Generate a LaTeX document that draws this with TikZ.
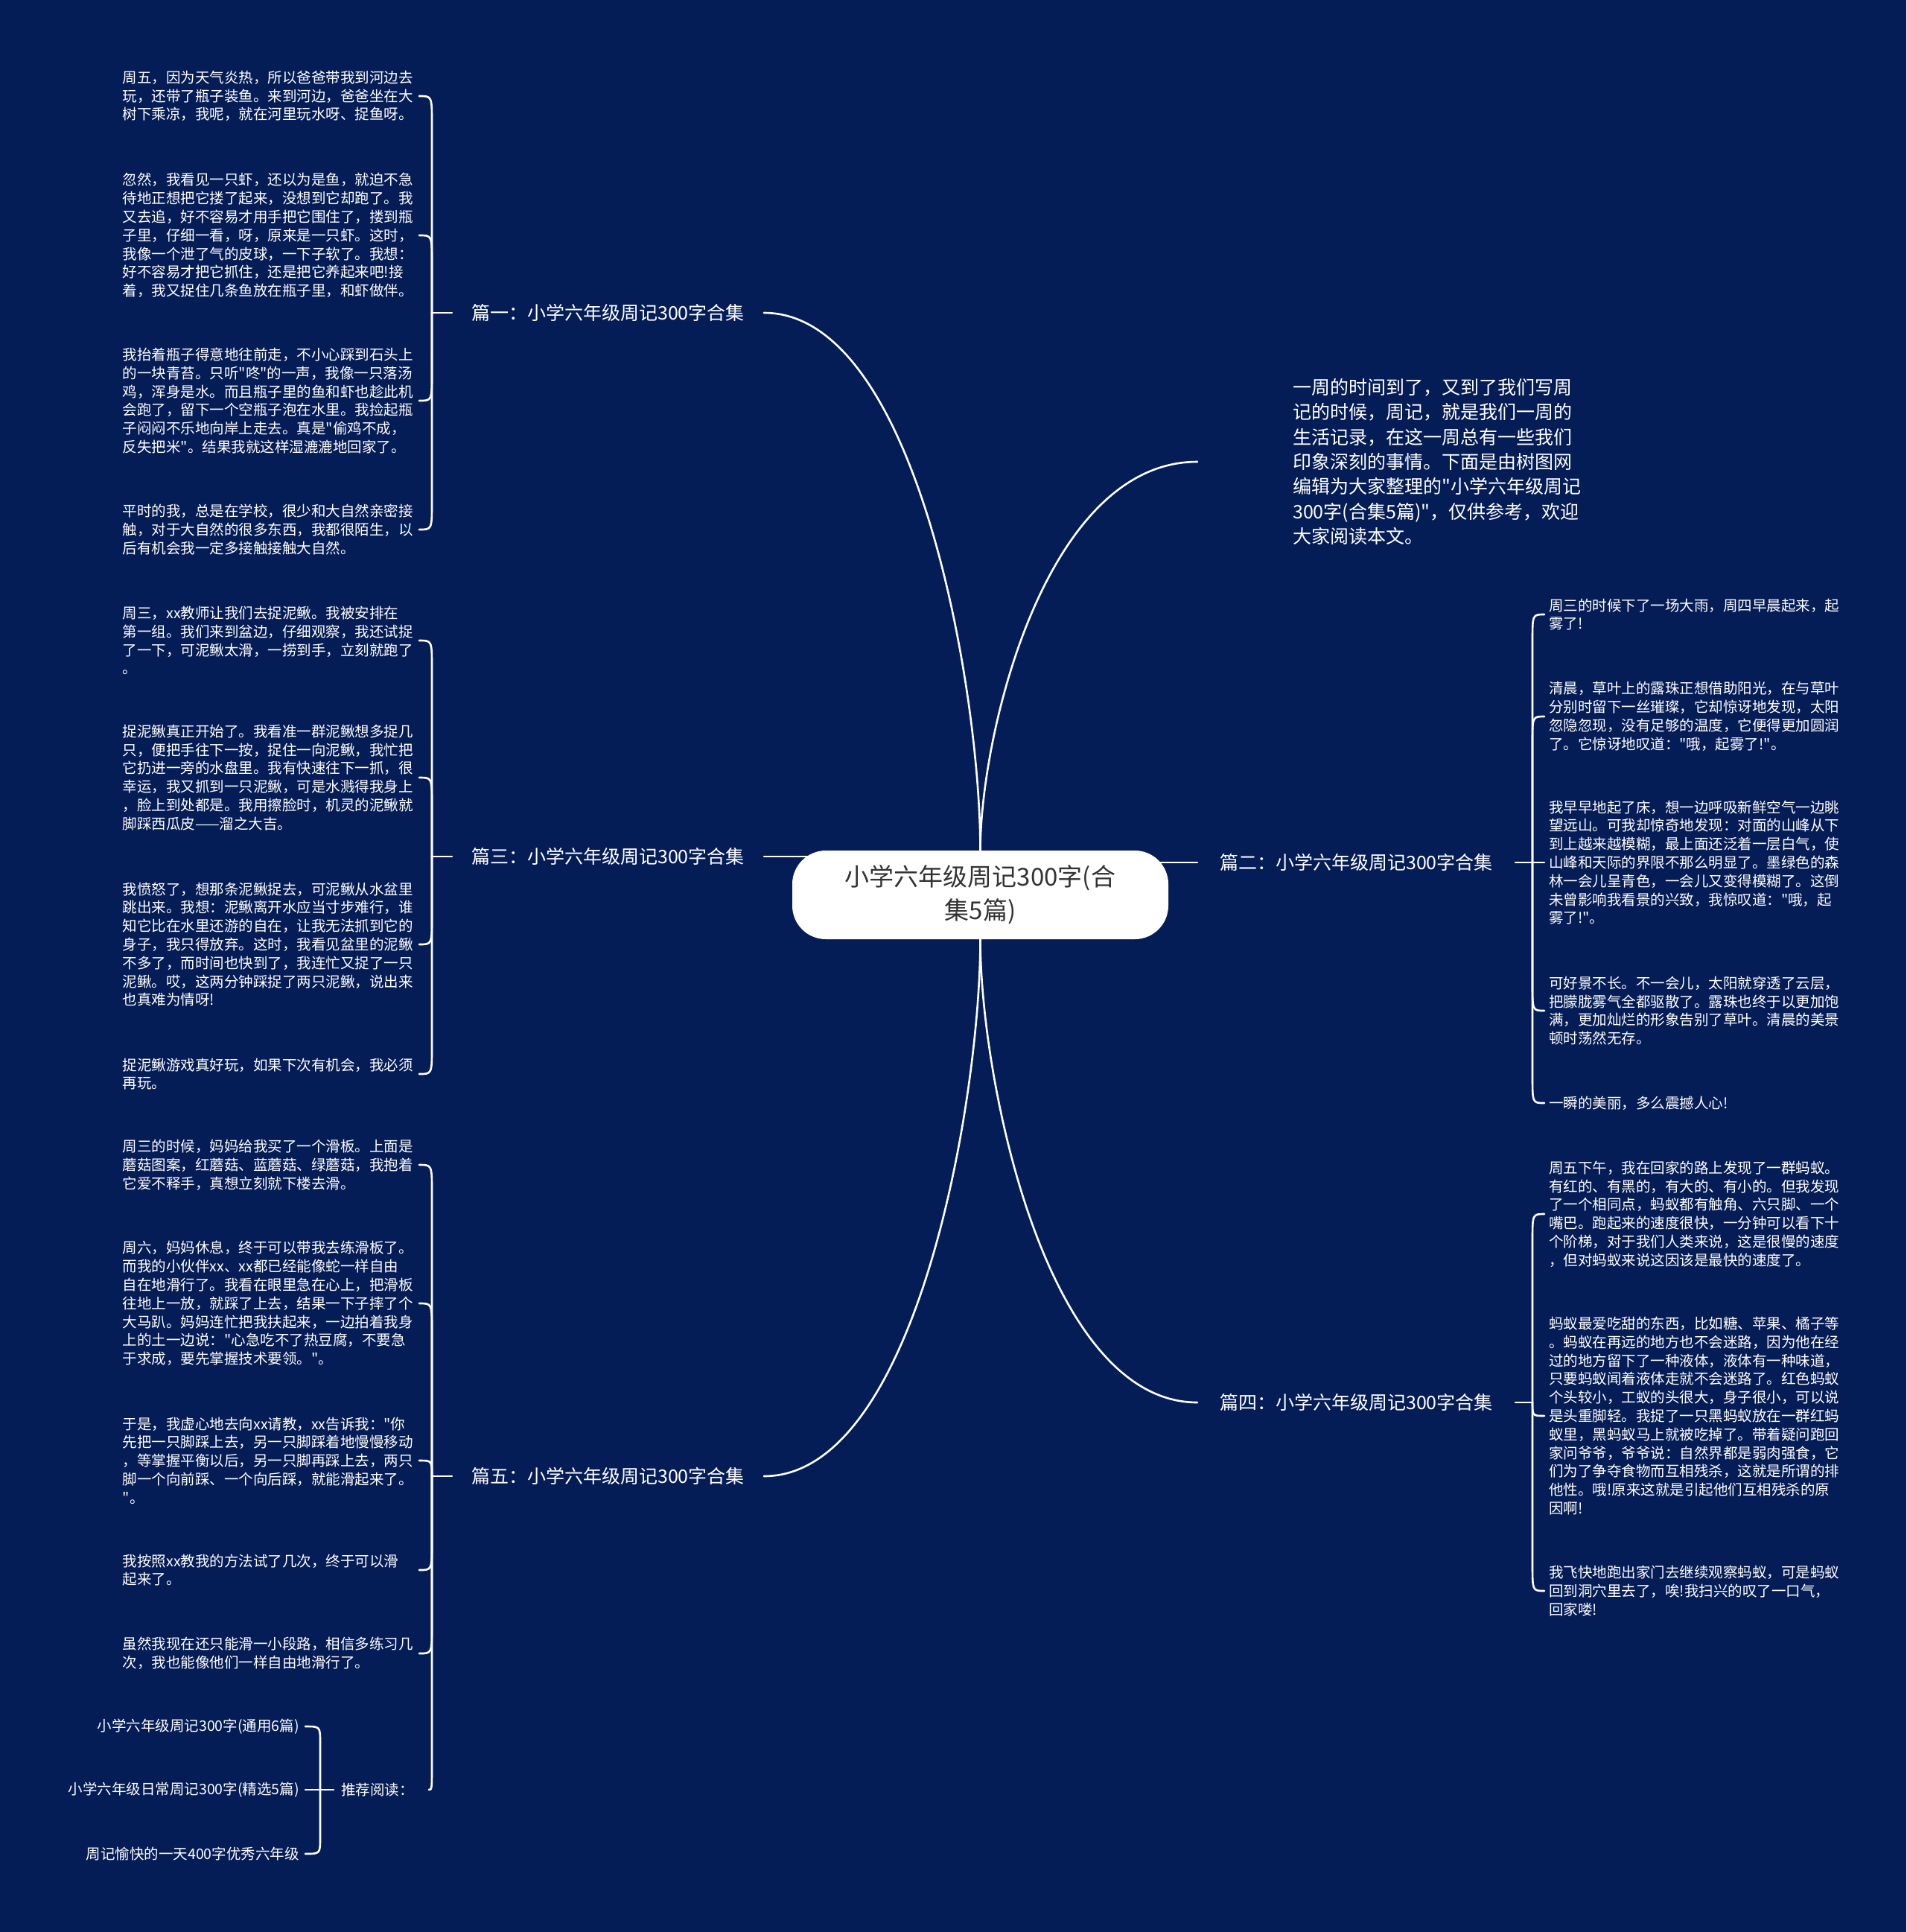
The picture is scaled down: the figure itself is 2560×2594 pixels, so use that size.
\documentclass[tikz,border=0pt]{standalone}
\usepackage{fontspec}
\setmainfont{Noto Sans CJK SC}[Ligatures=TeXOff]
\usetikzlibrary{calc}
\definecolor{bgc}{HTML}{051D57}
\definecolor{ctext}{HTML}{333333}
\pgfdeclarelayer{bglayer}
\pgfdeclarelayer{edgelayer}
\pgfsetlayers{bglayer,edgelayer,main}
\newcommand\myhook[3]{\draw[conn] (#1) -- ($(#1 |- #2)+(0,#3)$) .. controls (#1 |- #2) .. (#2);}
\begin{document}
\begin{tikzpicture}[x=1pt,y=-1pt,
 conn/.style={draw=white,line width=2.6pt,line cap=round},
 leaf/.style={text=white,font=\fontsize{19.5}{24.8}\selectfont,align=left,text width=392pt,inner xsep=6pt,inner ysep=0pt},
 rec/.style={text=white,font=\fontsize{19.5}{24.8}\selectfont,inner xsep=8pt,inner ysep=2pt},
 branch/.style={text=white,font=\fontsize{25}{30}\selectfont,inner ysep=4pt},
 intro/.style={text=white,font=\fontsize{25}{33.4}\selectfont,align=left,text width=400pt,inner xsep=128pt},
 root/.style={fill=white,text=ctext,rounded corners=45pt,minimum width=505pt,minimum height=119pt,font=\fontsize{33}{45}\selectfont,align=center,text width=420pt}
]
\begin{pgfonlayer}{bglayer}
\fill[bgc] (0,0) rectangle (2560,2594);
\end{pgfonlayer}
\useasboundingbox (0,0) rectangle (2560,2594);

% root
\node[root] (c) at (1316.5,1201.5) {小学六年级周记300字(合\\集5篇)};

% branches
\node[branch,anchor=east,inner xsep=26pt] (p1) at (1026,420) {篇一：小学六年级周记300字合集};
\node[branch,anchor=east,inner xsep=26pt] (p3) at (1026,1150) {篇三：小学六年级周记300字合集};
\node[branch,anchor=east,inner xsep=26pt] (p5) at (1026,1982) {篇五：小学六年级周记300字合集};
\node[branch,anchor=west,inner xsep=30pt] (p2) at (1608,1158) {篇二：小学六年级周记300字合集};
\node[branch,anchor=west,inner xsep=30pt] (p4) at (1608,1883) {篇四：小学六年级周记300字合集};
\node[intro,anchor=west] (in) at (1608,620) {一周的时间到了，又到了我们写周\\
记的时候，周记，就是我们一周的\\
生活记录，在这一周总有一些我们\\
印象深刻的事情。下面是由树图网\\
编辑为大家整理的"小学六年级周记\\
300字(合集5篇)"，仅供参考，欢迎\\
大家阅读本文。};

% 篇一 leaves
\node[leaf,anchor=east] (a1) at (563,129) {周五，因为天气炎热，所以爸爸带我到河边去\\
玩，还带了瓶子装鱼。来到河边，爸爸坐在大\\
树下乘凉，我呢，就在河里玩水呀、捉鱼呀。};
\node[leaf,anchor=east] (a2) at (563,316) {忽然，我看见一只虾，还以为是鱼，就迫不急\\
待地正想把它搂了起来，没想到它却跑了。我\\
又去追，好不容易才用手把它围住了，搂到瓶\\
子里，仔细一看，呀，原来是一只虾。这时，\\
我像一个泄了气的皮球，一下子软了。我想：\\
好不容易才把它抓住，还是把它养起来吧!接\\
着，我又捉住几条鱼放在瓶子里，和虾做伴。};
\node[leaf,anchor=east] (a3) at (563,538) {我抬着瓶子得意地往前走，不小心踩到石头上\\
的一块青苔。只听"咚"的一声，我像一只落汤\\
鸡，浑身是水。而且瓶子里的鱼和虾也趁此机\\
会跑了，留下一个空瓶子泡在水里。我捡起瓶\\
子闷闷不乐地向岸上走去。真是"偷鸡不成，\\
反失把米"。结果我就这样湿漉漉地回家了。};
\node[leaf,anchor=east] (a4) at (563,711) {平时的我，总是在学校，很少和大自然亲密接\\
触，对于大自然的很多东西，我都很陌生，以\\
后有机会我一定多接触接触大自然。};

% 篇三 leaves
\node[leaf,anchor=east] (b1) at (563,860) {周三，xx教师让我们去捉泥鳅。我被安排在\\
第一组。我们来到盆边，仔细观察，我还试捉\\
了一下，可泥鳅太滑，一捞到手，立刻就跑了\\
。};
\node[leaf,anchor=east] (b2) at (563,1044) {捉泥鳅真正开始了。我看准一群泥鳅想多捉几\\
只，便把手往下一按，捉住一向泥鳅，我忙把\\
它扔进一旁的水盘里。我有快速往下一抓，很\\
幸运，我又抓到一只泥鳅，可是水溅得我身上\\
，脸上到处都是。我用擦脸时，机灵的泥鳅就\\
脚踩西瓜皮——溜之大吉。};
\node[leaf,anchor=east] (b3) at (563,1268) {我愤怒了，想那条泥鳅捉去，可泥鳅从水盆里\\
跳出来。我想：泥鳅离开水应当寸步难行，谁\\
知它比在水里还游的自在，让我无法抓到它的\\
身子，我只得放弃。这时，我看见盆里的泥鳅\\
不多了，而时间也快到了，我连忙又捉了一只\\
泥鳅。哎，这两分钟踩捉了两只泥鳅，说出来\\
也真难为情呀!};
\node[leaf,anchor=east] (b4) at (563,1442) {捉泥鳅游戏真好玩，如果下次有机会，我必须\\
再玩。};

% 篇五 leaves
\node[leaf,anchor=east] (e1) at (563,1564) {周三的时候，妈妈给我买了一个滑板。上面是\\
蘑菇图案，红蘑菇、蓝蘑菇、绿蘑菇，我抱着\\
它爱不释手，真想立刻就下楼去滑。};
\node[leaf,anchor=east] (e2) at (563,1750) {周六，妈妈休息，终于可以带我去练滑板了。\\
而我的小伙伴xx、xx都已经能像蛇一样自由\\
自在地滑行了。我看在眼里急在心上，把滑板\\
往地上一放，就踩了上去，结果一下子摔了个\\
大马趴。妈妈连忙把我扶起来，一边拍着我身\\
上的土一边说："心急吃不了热豆腐，不要急\\
于求成，要先掌握技术要领。"。};
\node[leaf,anchor=east] (e3) at (563,1961) {于是，我虚心地去向xx请教，xx告诉我："你\\
先把一只脚踩上去，另一只脚踩着地慢慢移动\\
，等掌握平衡以后，另一只脚再踩上去，两只\\
脚一个向前踩、一个向后踩，就能滑起来了。\\
"。};
\node[leaf,anchor=east] (e4) at (563,2108) {我按照xx教我的方法试了几次，终于可以滑\\
起来了。};
\node[leaf,anchor=east] (e5) at (563,2220) {虽然我现在还只能滑一小段路，相信多练习几\\
次，我也能像他们一样自由地滑行了。};
\node[rec,anchor=west,inner xsep=10pt] (tj) at (448,2403) {推荐阅读：};
\node[rec,anchor=east] (r1) at (410,2318) {小学六年级周记300字(通用6篇)};
\node[rec,anchor=east] (r2) at (410,2403) {小学六年级日常周记300字(精选5篇)};
\node[rec,anchor=east] (r3) at (410,2489) {周记愉快的一天400字优秀六年级};

% 篇二 leaves
\node[leaf,anchor=west] (f1) at (2074,825) {周三的时候下了一场大雨，周四早晨起来，起\\
雾了!};
\node[leaf,anchor=west] (f2) at (2074,962) {清晨，草叶上的露珠正想借助阳光，在与草叶\\
分别时留下一丝璀璨，它却惊讶地发现，太阳\\
忽隐忽现，没有足够的温度，它便得更加圆润\\
了。它惊讶地叹道："哦，起雾了!"。};
\node[leaf,anchor=west] (f3) at (2074,1158) {我早早地起了床，想一边呼吸新鲜空气一边眺\\
望远山。可我却惊奇地发现：对面的山峰从下\\
到上越来越模糊，最上面还泛着一层白气，使\\
山峰和天际的界限不那么明显了。墨绿色的森\\
林一会儿呈青色，一会儿又变得模糊了。这倒\\
未曾影响我看景的兴致，我惊叹道："哦，起\\
雾了!"。};
\node[leaf,anchor=west] (f4) at (2074,1357) {可好景不长。不一会儿，太阳就穿透了云层，\\
把朦胧雾气全都驱散了。露珠也终于以更加饱\\
满，更加灿烂的形象告别了草叶。清晨的美景\\
顿时荡然无存。};
\node[leaf,anchor=west] (f5) at (2074,1481) {一瞬的美丽，多么震撼人心!};

% 篇四 leaves
\node[leaf,anchor=west] (g1) at (2074,1630) {周五下午，我在回家的路上发现了一群蚂蚁。\\
有红的、有黑的，有大的、有小的。但我发现\\
了一个相同点，蚂蚁都有触角、六只脚、一个\\
嘴巴。跑起来的速度很快，一分钟可以看下十\\
个阶梯，对于我们人类来说，这是很慢的速度\\
，但对蚂蚁来说这因该是最快的速度了。};
\node[leaf,anchor=west] (g2) at (2074,1901) {蚂蚁最爱吃甜的东西，比如糖、苹果、橘子等\\
。蚂蚁在再远的地方也不会迷路，因为他在经\\
过的地方留下了一种液体，液体有一种味道，\\
只要蚂蚁闻着液体走就不会迷路了。红色蚂蚁\\
个头较小，工蚁的头很大，身子很小，可以说\\
是头重脚轻。我捉了一只黑蚂蚁放在一群红蚂\\
蚁里，黑蚂蚁马上就被吃掉了。带着疑问跑回\\
家问爷爷，爷爷说：自然界都是弱肉强食，它\\
们为了争夺食物而互相残杀，这就是所谓的排\\
他性。哦!原来这就是引起他们互相残杀的原\\
因啊!};
\node[leaf,anchor=west] (g3) at (2074,2136) {我飞快地跑出家门去继续观察蚂蚁，可是蚂蚁\\
回到洞穴里去了，唉!我扫兴的叹了一口气，\\
回家喽!};

% brace junctions
\coordinate (j1) at (580,420);
\coordinate (j3) at (580,1150);
\coordinate (j5) at (580,1982);
\coordinate (j2) at (2058,1158);
\coordinate (j4) at (2058,1883);
\coordinate (jt) at (430,2403);
\coordinate (tje) at ([xshift=10pt]tj.east);

\begin{pgfonlayer}{edgelayer}
% main curves
\draw[conn] (c.north) .. controls +(0,-217) and +(204,0) .. (p1.east);
\draw[conn] (c.north) .. controls +(0,-156) and +(-204,0) .. (in.west);
\draw[conn] (c.south) .. controls +(0,216) and +(204,0) .. (p5.east);
\draw[conn] (c.south) .. controls +(0,187) and +(-204,0) .. (p4.west);
\draw[conn] (p3.east) -- (p3.east -| c.center);
\draw[conn] (p2.west) -- (p2.west -| c.center);
% ticks
\draw[conn] (p1.west) -- (j1);
\draw[conn] (p3.west) -- (j3);
\draw[conn] (p5.west) -- (j5);
\draw[conn] (p2.east) -- (j2);
\draw[conn] (p4.east) -- (j4);
\draw[conn] (tj.west) -- (jt);
% 篇一
\myhook{j1}{a1.east}{36}
\myhook{j1}{a2.east}{36}
\myhook{j1}{a3.east}{-36}
\myhook{j1}{a4.east}{-36}
% 篇三
\myhook{j3}{b1.east}{36}
\myhook{j3}{b2.east}{36}
\myhook{j3}{b3.east}{-36}
\myhook{j3}{b4.east}{-36}
% 篇五
\myhook{j5}{e1.east}{36}
\myhook{j5}{e2.east}{36}
\myhook{j5}{e3.east}{21}
\myhook{j5}{e4.east}{-36}
\myhook{j5}{e5.east}{-36}
\myhook{j5}{tje}{-36}
% 推荐阅读
\myhook{jt}{r1.east}{22}
\draw[conn] (jt) -- (r2.east);
\myhook{jt}{r3.east}{-22}
% 篇二
\myhook{j2}{f1.west}{36}
\myhook{j2}{f2.west}{36}
\draw[conn] (j2) -- (f3.west);
\myhook{j2}{f4.west}{-36}
\myhook{j2}{f5.west}{-36}
% 篇四
\myhook{j4}{g1.west}{36}
\myhook{j4}{g2.west}{-18}
\myhook{j4}{g3.west}{-36}
\end{pgfonlayer}
\end{tikzpicture}
\end{document}
